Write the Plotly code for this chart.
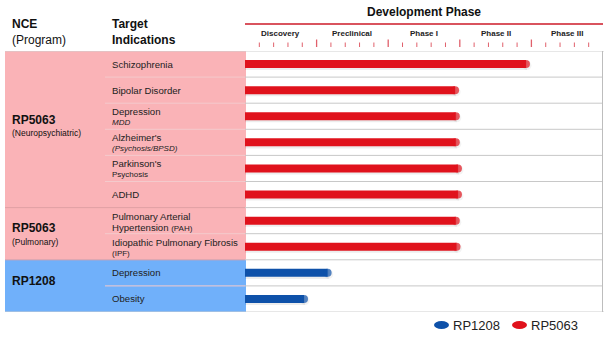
import plotly.graph_objects as go

# ---------------- data ----------------
phases = ["Discovery", "Preclinical", "Phase I", "Phase II", "Phase III"]
programs = ["RP5063", "RP5063", "RP5063", "RP5063", "RP5063", "RP5063",
            "RP5063", "RP5063", "RP1208", "RP1208"]
ind_main = ["Schizophrenia", "Bipolar Disorder", "Depression", "Alzheimer's",
            "Parkinson's", "ADHD", "Pulmonary Arterial",
            "Idiopathic Pulmonary Fibrosis", "Depression", "Obesity"]
ind_sub = ["", "", "<i>MDD</i>", "<i>(Psychosis/BPSD)</i>", "Psychosis", "",
           "Hypertension <span style='font-size:8px'>(PAH)</span>",
           "<span style='font-size:8px'>(IPF)</span>", "", ""]
# progress measured in phase units (0 = start of Discovery, 5 = end of Phase III)
progress = [3.98, 2.99, 3.00, 3.00, 3.03, 3.03, 3.00, 3.01, 1.21, 0.88]

group_prog = ["RP5063", "RP5063", "RP1208"]
group_sub = ["(Neuropsychiatric)", "(Pulmonary)", ""]
group_first = [0, 6, 8]
group_last = [5, 7, 9]
legend_order = ["RP1208", "RP5063"]

# ---------------- style ----------------
W, H = 614, 339
BAR_COL = {"RP5063": "#E0121C", "RP1208": "#0E51A9"}
BG_COL = {"RP5063": "#FAB3B7", "RP1208": "#70B0FA"}
FONT = "Liberation Sans, Arial, sans-serif"
X0_PX, X1_PX = 245, 603      # plot area horizontal extent
Y0_PX, Y1_PX = 51, 312       # table vertical extent
TBL_L = 5                    # table left edge px
IND_X = 110                  # indications text x
SEP_X = 105
group_main_shift = [9.5, 6, 5]     # px up from group centre
group_sub_shift = [-3.5, -8, 0]

def px_x(p):
    return p / W

def px_y(p):
    return 1 - p / H

nrows = len(ind_main)
n_ph = len(phases)
unit_px = (X1_PX - X0_PX) / n_ph
bar_w = 8
r_units = (bar_w / 2) / unit_px

fig = go.Figure()

# bars (soft shadow + line + rounded end)
for i, (prog, v) in enumerate(zip(programs, progress)):
    xe = v - r_units
    fig.add_trace(go.Scatter(
        x=[0, xe + 0.015], y=[i + 0.06, i + 0.06], mode="lines+markers",
        line=dict(color="rgba(0,0,0,0.07)", width=bar_w + 1),
        marker=dict(size=[0, bar_w + 1], color="rgba(0,0,0,0.07)", line=dict(width=0)),
        showlegend=False, hoverinfo="skip"))
    fig.add_trace(go.Scatter(
        x=[0, xe], y=[i, i], mode="lines+markers",
        line=dict(color=BAR_COL[prog], width=bar_w),
        marker=dict(size=[0, bar_w], color=BAR_COL[prog], line=dict(width=0)),
        name=prog, showlegend=False, hoverinfo="skip"))

shapes = []
annots = []

# table backgrounds
for prog, a, b in zip(group_prog, group_first, group_last):
    shapes.append(dict(type="rect", xref="paper", yref="y",
                       x0=px_x(TBL_L), x1=px_x(X0_PX + 1), y0=a - 0.5, y1=b + 0.5,
                       fillcolor=BG_COL[prog], line=dict(width=0), layer="below"))

# row separators
for i in range(nrows - 1):
    yb = i + 0.5
    shapes.append(dict(type="line", xref="x", yref="y", x0=0, x1=n_ph, y0=yb, y1=yb,
                       line=dict(color="#C8C8C8", width=1)))
    if i in group_last:
        shapes.append(dict(type="line", xref="paper", yref="y",
                           x0=px_x(TBL_L), x1=px_x(X0_PX), y0=yb, y1=yb,
                           line=dict(color="#E09EA3", width=1)))
    else:
        shapes.append(dict(type="line", xref="paper", yref="y",
                           x0=px_x(SEP_X), x1=px_x(X0_PX), y0=yb, y1=yb,
                           line=dict(color="#F4CACC", width=1)))

# outer borders
shapes.append(dict(type="line", xref="paper", yref="y", x0=px_x(TBL_L), x1=px_x(X1_PX + 1),
                   y0=-0.5, y1=-0.5, line=dict(color="#CFCFCF", width=1)))
shapes.append(dict(type="line", xref="paper", yref="y", x0=px_x(TBL_L), x1=px_x(X1_PX + 1),
                   y0=nrows - 0.5, y1=nrows - 0.5, line=dict(color="#CFCFCF", width=1)))
shapes.append(dict(type="line", xref="x", yref="y", x0=n_ph, x1=n_ph,
                   y0=-0.5, y1=nrows - 0.5, line=dict(color="#BDBDBD", width=2)))

# development phase header
shapes.append(dict(type="line", xref="x", yref="paper", x0=0, x1=n_ph,
                   y0=px_y(24), y1=px_y(24), line=dict(color="#D9535E", width=2)))
annots.append(dict(text="<b>Development Phase</b>", x=n_ph / 2, xref="x",
                   y=px_y(12), yref="paper", xanchor="center", yanchor="middle",
                   showarrow=False, font=dict(size=12, color="#111", family=FONT)))
for k, ph in enumerate(phases):
    annots.append(dict(text=f"<b>{ph}</b>", x=k + 0.5, xref="x", y=px_y(33), yref="paper",
                       xanchor="center", yanchor="middle",
                       showarrow=False, font=dict(size=8, color="#222", family=FONT)))
# ticks
steps = 5
for k in range(1, n_ph * steps):
    xv = k / steps
    major = k % steps == 0
    shapes.append(dict(type="line", xref="x", yref="paper", x0=xv, x1=xv,
                       y0=px_y(47), y1=px_y(39.5 if major else 42.5),
                       line=dict(color="#E0606B", width=1.3 if major else 1)))

# column headers
annots.append(dict(text="<b>NCE</b><br>(Program)", x=px_x(10), y=px_y(32), xref="paper",
                   yref="paper", xanchor="left", yanchor="middle", align="left",
                   showarrow=False, font=dict(size=12, color="#111", family=FONT)))
annots.append(dict(text="<b>Target<br>Indications</b>", x=px_x(IND_X), y=px_y(32),
                   xref="paper", yref="paper", xanchor="left", yanchor="middle",
                   align="left", showarrow=False,
                   font=dict(size=12, color="#111", family=FONT)))

# program labels
for prog, sub, a, b, ms, ss in zip(group_prog, group_sub, group_first, group_last,
                                   group_main_shift, group_sub_shift):
    yc = (a + b) / 2
    annots.append(dict(text=f"<b>{prog}</b>", x=px_x(10), xref="paper", y=yc, yref="y",
                       yshift=ms, xanchor="left", yanchor="middle", showarrow=False,
                       font=dict(size=12, color="#111", family=FONT)))
    if sub:
        annots.append(dict(text=sub, x=px_x(10), xref="paper", y=yc, yref="y",
                           yshift=ss, xanchor="left", yanchor="middle", showarrow=False,
                           font=dict(size=8.5, color="#111", family=FONT)))

# indication labels
for i, (m, s) in enumerate(zip(ind_main, ind_sub)):
    if s:
        annots.append(dict(text=m, x=px_x(IND_X), xref="paper", y=i, yref="y", yshift=4.5,
                           xanchor="left", yanchor="middle", showarrow=False,
                           font=dict(size=9.6, color="#222", family=FONT)))
        sub_size = 9.6 if s.startswith("Hyper") else 8
        annots.append(dict(text=s, x=px_x(IND_X), xref="paper", y=i, yref="y", yshift=-6.5,
                           xanchor="left", yanchor="middle", showarrow=False,
                           font=dict(size=sub_size, color="#222", family=FONT)))
    else:
        annots.append(dict(text=m, x=px_x(IND_X), xref="paper", y=i, yref="y",
                           xanchor="left", yanchor="middle", showarrow=False,
                           font=dict(size=9.6, color="#222", family=FONT)))

# legend (manual)
leg_x = [434, 512]
for lx, prog in zip(leg_x, legend_order):
    shapes.append(dict(type="circle", xref="paper", yref="paper",
                       x0=px_x(lx), x1=px_x(lx + 15), y0=px_y(321), y1=px_y(329),
                       fillcolor=BAR_COL[prog], line=dict(width=0)))
    annots.append(dict(text=prog, x=px_x(lx + 17), y=px_y(325), xref="paper", yref="paper",
                       xanchor="left", yanchor="middle", showarrow=False,
                       font=dict(size=13, color="#222", family=FONT)))

fig.update_layout(
    width=W, height=H, margin=dict(l=0, r=0, t=0, b=0),
    paper_bgcolor="white", plot_bgcolor="white",
    xaxis=dict(range=[0, n_ph], domain=[px_x(X0_PX), px_x(X1_PX)], visible=False,
               fixedrange=True),
    yaxis=dict(range=[nrows - 0.5, -0.5], domain=[px_y(Y1_PX), px_y(Y0_PX)], visible=False,
               fixedrange=True),
    shapes=shapes, annotations=annots, showlegend=False,
)

fig.write_html("out.html")
